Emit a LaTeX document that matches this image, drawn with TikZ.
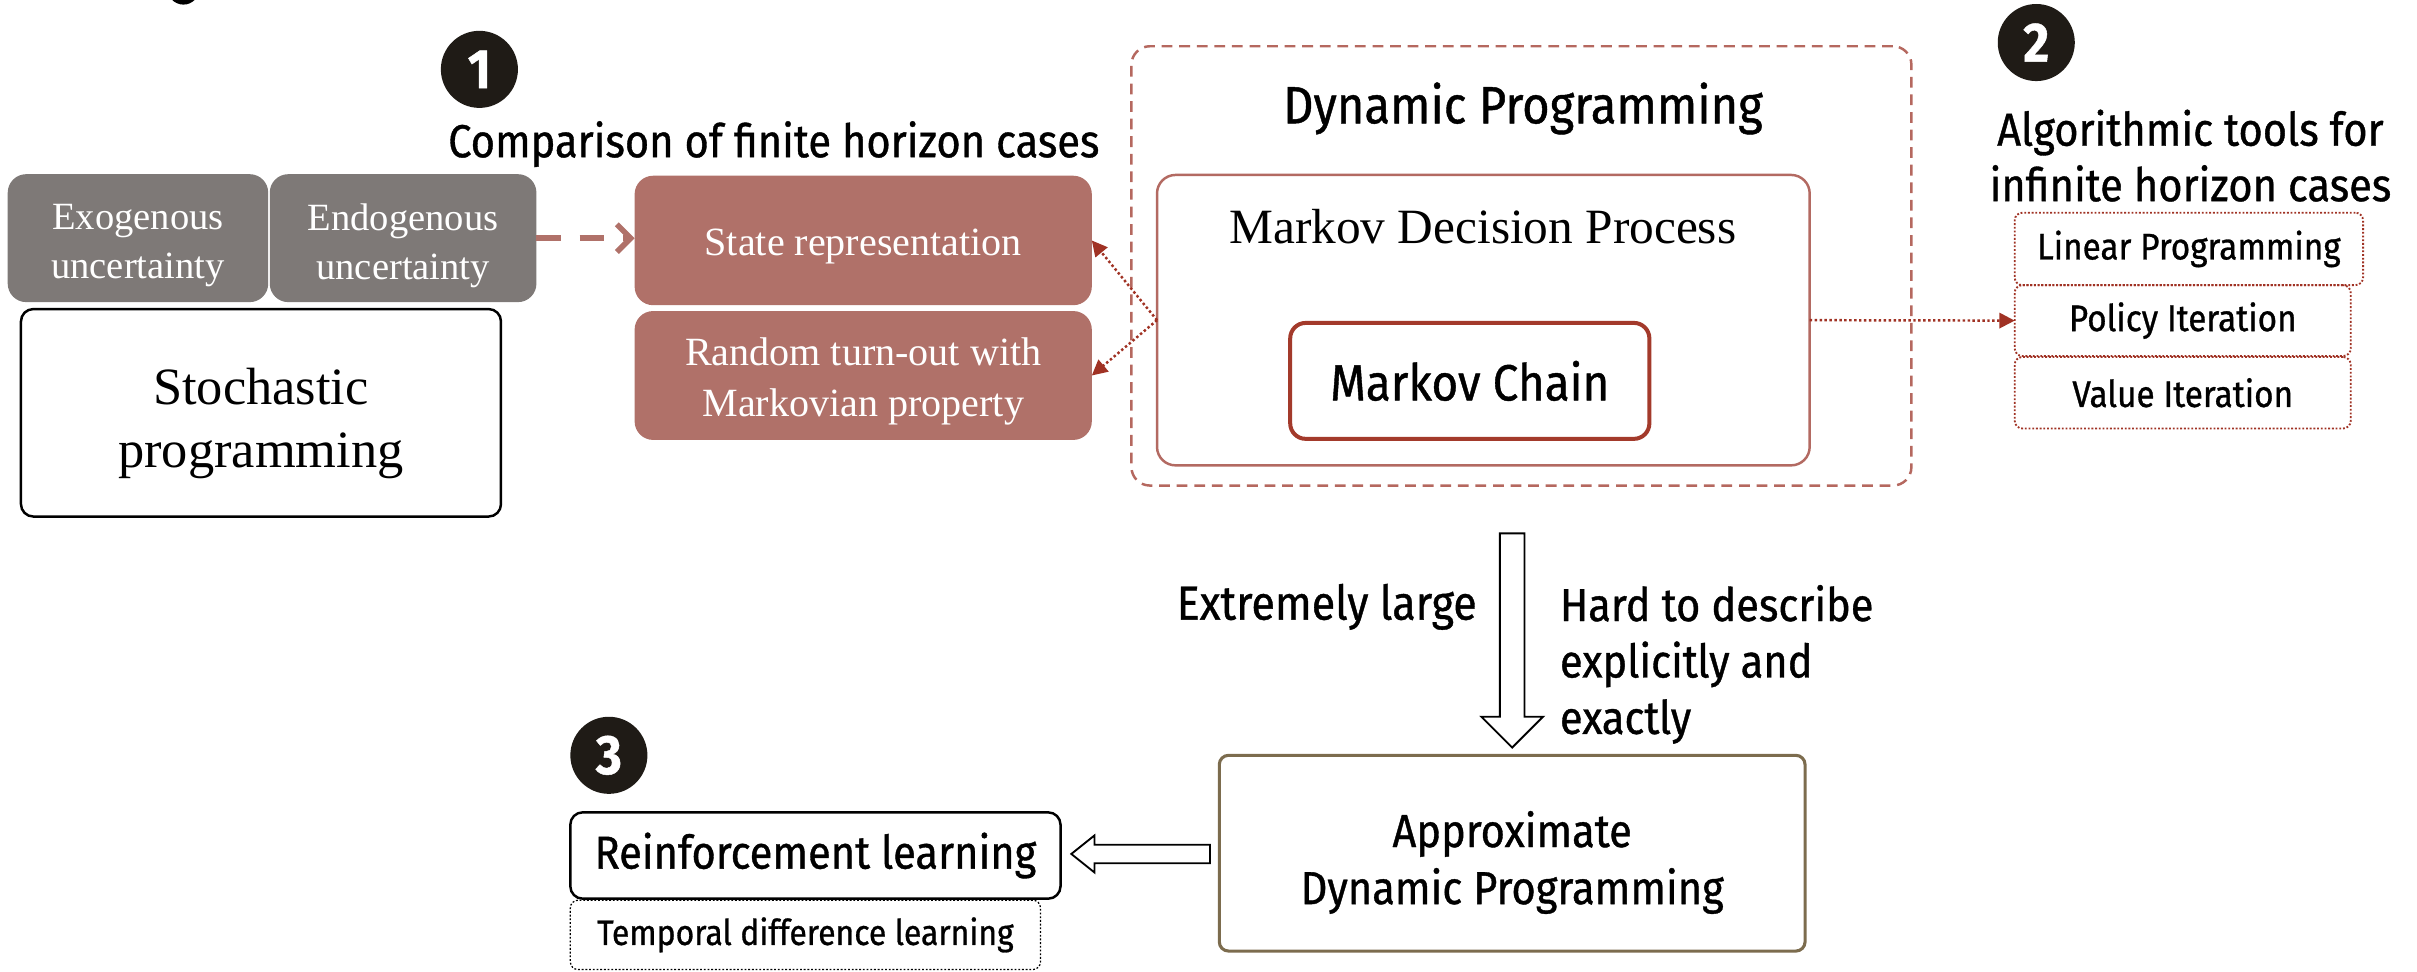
\documentclass[tikz,border=0pt]{standalone}
\usepackage{fontspec}
\setmainfont{Liberation Serif}
\newfontfamily\sansf[FakeStretch=0.9,FakeBold=0.8]{Fira Sans}
\usetikzlibrary{arrows.meta,calc}

\definecolor{cgray}{HTML}{7E7977}
\definecolor{crose}{HTML}{B07169}
\definecolor{cdash}{HTML}{B5685F}
\definecolor{cmdp}{HTML}{B36A62}
\definecolor{cchain}{HTML}{A33A2B}
\definecolor{cdot}{HTML}{A03224}
\definecolor{cadp}{HTML}{7C6C4E}
\definecolor{cbadge}{HTML}{1F1B16}

\begin{document}
\begin{tikzpicture}[x=0.5pt,y=-0.5pt,
  every node/.style={inner sep=0pt,outer sep=0pt},
  greybox/.style={fill=cgray,rounded corners=6pt},
  rosebox/.style={fill=crose,rounded corners=6pt},
  whitetext/.style={text=white,align=center,font=\fontsize{12.5}{16}\selectfont},
  plainbox/.style={draw=black,line width=0.8pt,fill=white,rounded corners=4pt},
  dpframe/.style={draw=cdash,line width=0.8pt,dash pattern=on 3.5pt off 2.2pt,rounded corners=6pt},
  mdpframe/.style={draw=cmdp,line width=0.8pt,rounded corners=6pt},
  chainbox/.style={draw=cchain,line width=1.3pt,rounded corners=5pt,
    font=\sansf\fontsize{16.5}{18}\selectfont},
  toolbox/.style={draw=cdot,line width=0.6pt,dash pattern=on 0.6pt off 0.6pt,rounded corners=2.5pt,
    font=\sansf\fontsize{12}{14}\selectfont},
  adpbox/.style={draw=cadp,line width=1pt,rounded corners=3pt},
  rlbox/.style={draw=black,line width=0.8pt,rounded corners=4pt,
    font=\sansf\fontsize{15}{17}\selectfont},
  tdbox/.style={draw=black,line width=0.4pt,dash pattern=on 0.6pt off 0.6pt,rounded corners=2.5pt,
    font=\sansf\fontsize{11.5}{13}\selectfont},
  badge/.style={circle,fill=cbadge,text=white,minimum size=25pt,
    font=\sansf\bfseries\fontsize{18}{18}\selectfont},
  heading/.style={font=\sansf\fontsize{15}{18.3}\selectfont},
  dasharrow/.style={draw=crose,line width=1.8pt,dash pattern=on 8pt off 6pt,
    -{Straight Barb[length=4.5pt,width=9pt,line width=1.8pt]}},
  dotarrow/.style={draw=cdot,line width=0.8pt,dash pattern=on 0.8pt off 0.8pt,
    -{Triangle[length=5pt,width=5pt]}},
  hollow/.style={draw=black,line width=0.6pt,fill=white,line join=miter}
]
\useasboundingbox (0,0) rectangle (1568,630);

% cropped mark at the top edge
\fill[black] (119,-9) ellipse [x radius=5.5pt,y radius=6pt];

% ---- stochastic programming side ----
\node[greybox,minimum width=84.5pt,minimum height=41.5pt] (exo) at (89.5,154.5) {};
\node[whitetext] (exotxt) at ($(exo)+(0,5)$) {Exogenous\\uncertainty};
\node[greybox,minimum width=86.5pt,minimum height=41.5pt] (endo) at (261.5,154.5) {};
\node[whitetext] (endotxt) at ($(endo)+(0,5)$) {Endogenous\\uncertainty};
\node[plainbox,minimum width=155.7pt,minimum height=67.3pt] (stoch) at (169.3,267.8) {};
\node[align=center,font=\fontsize{17}{20.5}\selectfont] (stochtxt) at ($(stoch)+(0,7)$)
  {Stochastic\\programming};

% ---- finite horizon comparison ----
\node[badge] (b1) at (311,45) {1};
\node[heading,anchor=base] (cmp) at (502,102) {Comparison of finite horizon cases};
\node[rosebox,minimum width=148.3pt,minimum height=42pt] (state) at (560,156) {};
\node[whitetext,font=\fontsize{13}{16.7}\selectfont] (statetxt) at ($(state)+(0,4)$)
  {State representation};
\node[rosebox,minimum width=148.3pt,minimum height=41.8pt] (rand) at (560,243.6) {};
\node[whitetext,font=\fontsize{13}{16.7}\selectfont] (randtxt) at ($(rand)+(0,4)$)
  {Random turn-out with\\Markovian property};

% ---- dynamic programming ----
\node[dpframe,minimum width=253pt,minimum height=142.5pt] (dp) at (987,172.5) {};
\node[anchor=base,font=\sansf\fontsize{17}{20}\selectfont] (dptitle) at (988,80)
  {Dynamic Programming};
\node[mdpframe,minimum width=211.7pt,minimum height=94.2pt] (mdp) at (962.3,207.7) {};
\node[anchor=base,font=\fontsize{16}{18}\selectfont] (mdptitle) at (962,158)
  {Markov Decision Process};
\node[chainbox,minimum width=116.5pt,minimum height=37.6pt] (chain) at (953.5,247.1)
  {Markov Chain};

% ---- infinite horizon tools ----
\node[badge] (b2) at (1321,27.6) {2};
\node[align=center,font=\sansf\fontsize{15}{18}\selectfont] (algo) at (1421,101)
  {Algorithmic tools for\\infinite horizon cases};
\node[toolbox,minimum width=113pt,minimum height=23.5pt] (lp) at (1420,161.5) {Linear Programming};
\node[toolbox,minimum width=109pt,minimum height=23pt] (pi) at (1416,208) {Policy Iteration};
\node[toolbox,minimum width=109pt,minimum height=23.2pt] (vi) at (1416,254.8) {Value Iteration};

% ---- approximate dynamic programming ----
\node[heading,anchor=base east,font=\sansf\fontsize{15.5}{18.3}\selectfont] (large) at (958,402)
  {Extremely large};
\node[heading,align=left,anchor=west] (hard) at (1012,431)
  {Hard to describe\\explicitly and\\exactly};
\node[adpbox,minimum width=190pt,minimum height=63.5pt] (adp) at (981,553.5) {};
\node[align=center,font=\sansf\fontsize{15}{18.5}\selectfont] (adptxt) at ($(adp)+(0,6)$)
  {Approximate\\Dynamic Programming};

% ---- reinforcement learning ----
\node[badge] (b3) at (395,490) {3};
\node[rlbox,minimum width=159pt,minimum height=28pt] (rl) at (529,555) {Reinforcement learning};
\node[tdbox,minimum width=152.5pt,minimum height=22.5pt] (td) at (522.5,606.5)
  {Temporal difference learning};

% ---- connectors ----
\draw[dasharrow] (endo.east) -- (endo.east -| state.west);
\draw[dotarrow] (mdp.west) -- (state.east);
\draw[dotarrow] (mdp.west) -- (rand.east);
\draw[dotarrow] (mdp.east) -- (pi.west);

% hollow arrow from the DP frame down to ADP
\coordinate (dtop) at (981,346);
\coordinate (dtip) at ($(adp.north)+(0,-5)$);
\draw[hollow] ($(dtop)+(-8,0)$) -- ($(dtip)+(-8,-20)$) -- ($(dtip)+(-20,-20)$) -- (dtip)
  -- ($(dtip)+(20,-20)$) -- ($(dtip)+(8,-20)$) -- ($(dtop)+(8,0)$) -- cycle;

% hollow arrow from ADP to reinforcement learning
\coordinate (ltip) at ($(rl.east)+(7,-1)$);
\coordinate (lend) at ($(adp.west)+(-6,0)$);
\draw[hollow] (ltip) -- ($(ltip)+(15,-12)$) -- ($(ltip)+(15,-6)$) -- ($(lend |- ltip)+(0,-6)$)
  -- ($(lend |- ltip)+(0,6)$) -- ($(ltip)+(15,6)$) -- ($(ltip)+(15,12)$) -- cycle;
\end{tikzpicture}
\end{document}
